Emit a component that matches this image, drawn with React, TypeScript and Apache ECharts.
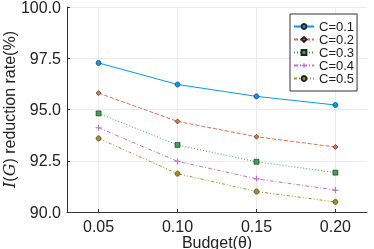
import React, { useEffect, useRef } from "react";
import * as echarts from "echarts";

const budgets = [0.05, 0.1, 0.15, 0.2];
const seriesNames = ["C=0.1", "C=0.2", "C=0.3", "C=0.4", "C=0.5"];
const c01 = [97.27, 96.22, 95.64, 95.22];
const c02 = [95.8, 94.42, 93.67, 93.17];
const c03 = [94.81, 93.27, 92.45, 91.92];
const c04 = [94.11, 92.47, 91.62, 91.07];
const c05 = [93.59, 91.87, 91.0, 90.49];
const yTicks = [90, 92.5, 95, 97.5, 100];

const colors = ["#009AFA", "#E36F47", "#3EA44E", "#C371D2", "#AC8E18"];
const dashes: any[] = ["solid", [4, 2], [1, 2], [4, 2, 1, 2], [3, 2, 1, 2, 1, 2]];
const symbols = ["circle", "diamond", "rect", "path://M2,0H3V2H5V3H3V5H2V3H0V2H2Z", "circle"];
const symbolSizes = [5, 5, 5, 6, 5];

export default function App() {
  const ref = useRef<HTMLDivElement>(null);
  useEffect(() => {
    if (!ref.current) return;
    const chart = echarts.init(ref.current, undefined, { renderer: "svg" });
    const all = [c01, c02, c03, c04, c05];
    chart.setOption({
      animation: false,
      grid: { left: 67, top: 7, right: 7, bottom: 37, containLabel: false, outerBoundsMode: "none" },
      xAxis: {
        type: "value",
        min: 0.03,
        max: 0.22,
        name: "Budget(θ)",
        nameLocation: "middle",
        nameGap: 22,
        nameMoveOverlap: false,
        nameTextStyle: { fontFamily: "Liberation Sans", fontSize: 16, color: "#222" },
        axisLine: { show: true, lineStyle: { color: "#333", width: 1 } },
        axisTick: { show: true, inside: true, length: 3, customValues: budgets, lineStyle: { color: "#333" } },
        axisLabel: {
          customValues: budgets,
          formatter: (v: number) => v.toFixed(2),
          fontFamily: "Liberation Sans",
          fontSize: 16,
          color: "#222",
          margin: 6,
        },
        splitLine: { show: true, lineStyle: { color: "#ececec", width: 1 } },
      },
      yAxis: {
        type: "value",
        min: 90,
        max: 100,
        interval: 2.5,
        name: "{i|I}({i|G}) reduction rate(%)",
        nameLocation: "middle",
        nameGap: 50,
        nameMoveOverlap: false,
        nameRotate: 90,
        nameTextStyle: {
          fontFamily: "Liberation Sans",
          fontSize: 16,
          color: "#222",
          rich: {
            i: { fontFamily: "DejaVu Serif", fontStyle: "italic", fontSize: 16, color: "#222" },
          },
        },
        axisLine: { show: true, lineStyle: { color: "#333", width: 1 } },
        axisTick: { show: true, inside: true, length: 3, lineStyle: { color: "#333" } },
        axisLabel: {
          formatter: (v: number) => v.toFixed(1),
          fontFamily: "Liberation Sans",
          fontSize: 16,
          color: "#222",
          margin: 6,
          customValues: yTicks,
        },
        splitLine: { show: true, lineStyle: { color: "#ececec", width: 1 } },
      },
      legend: {
        orient: "vertical",
        left: 290,
        top: 14,
        padding: [6, 3, 6, 3],
        itemGap: 0,
        itemWidth: 20,
        itemHeight: 6,
        backgroundColor: "#fff",
        borderColor: "#333",
        borderWidth: 1,
        borderRadius: 0,
        textStyle: { fontFamily: "Liberation Sans", fontSize: 13, color: "#222", lineHeight: 13 },
        data: seriesNames,
      },
      series: all.map((vals, i) => ({
        name: seriesNames[i],
        type: "line",
        data: budgets.map((b, j) => [b, vals[j]]),
        symbol: symbols[i],
        symbolSize: symbolSizes[i],
        showSymbol: true,
        color: colors[i],
        lineStyle: { color: colors[i], width: 1, type: dashes[i] },
        itemStyle: {
          color: colors[i],
          borderColor: i === 3 ? colors[i] : "#222",
          borderWidth: i === 3 ? 0 : 0.6,
        },
        emphasis: { disabled: true },
      })),
    });
    return () => chart.dispose();
  }, []);
  return <div ref={ref} style={{ position: "fixed", left: 0, top: 0, width: 374, height: 249 }} />;
}
